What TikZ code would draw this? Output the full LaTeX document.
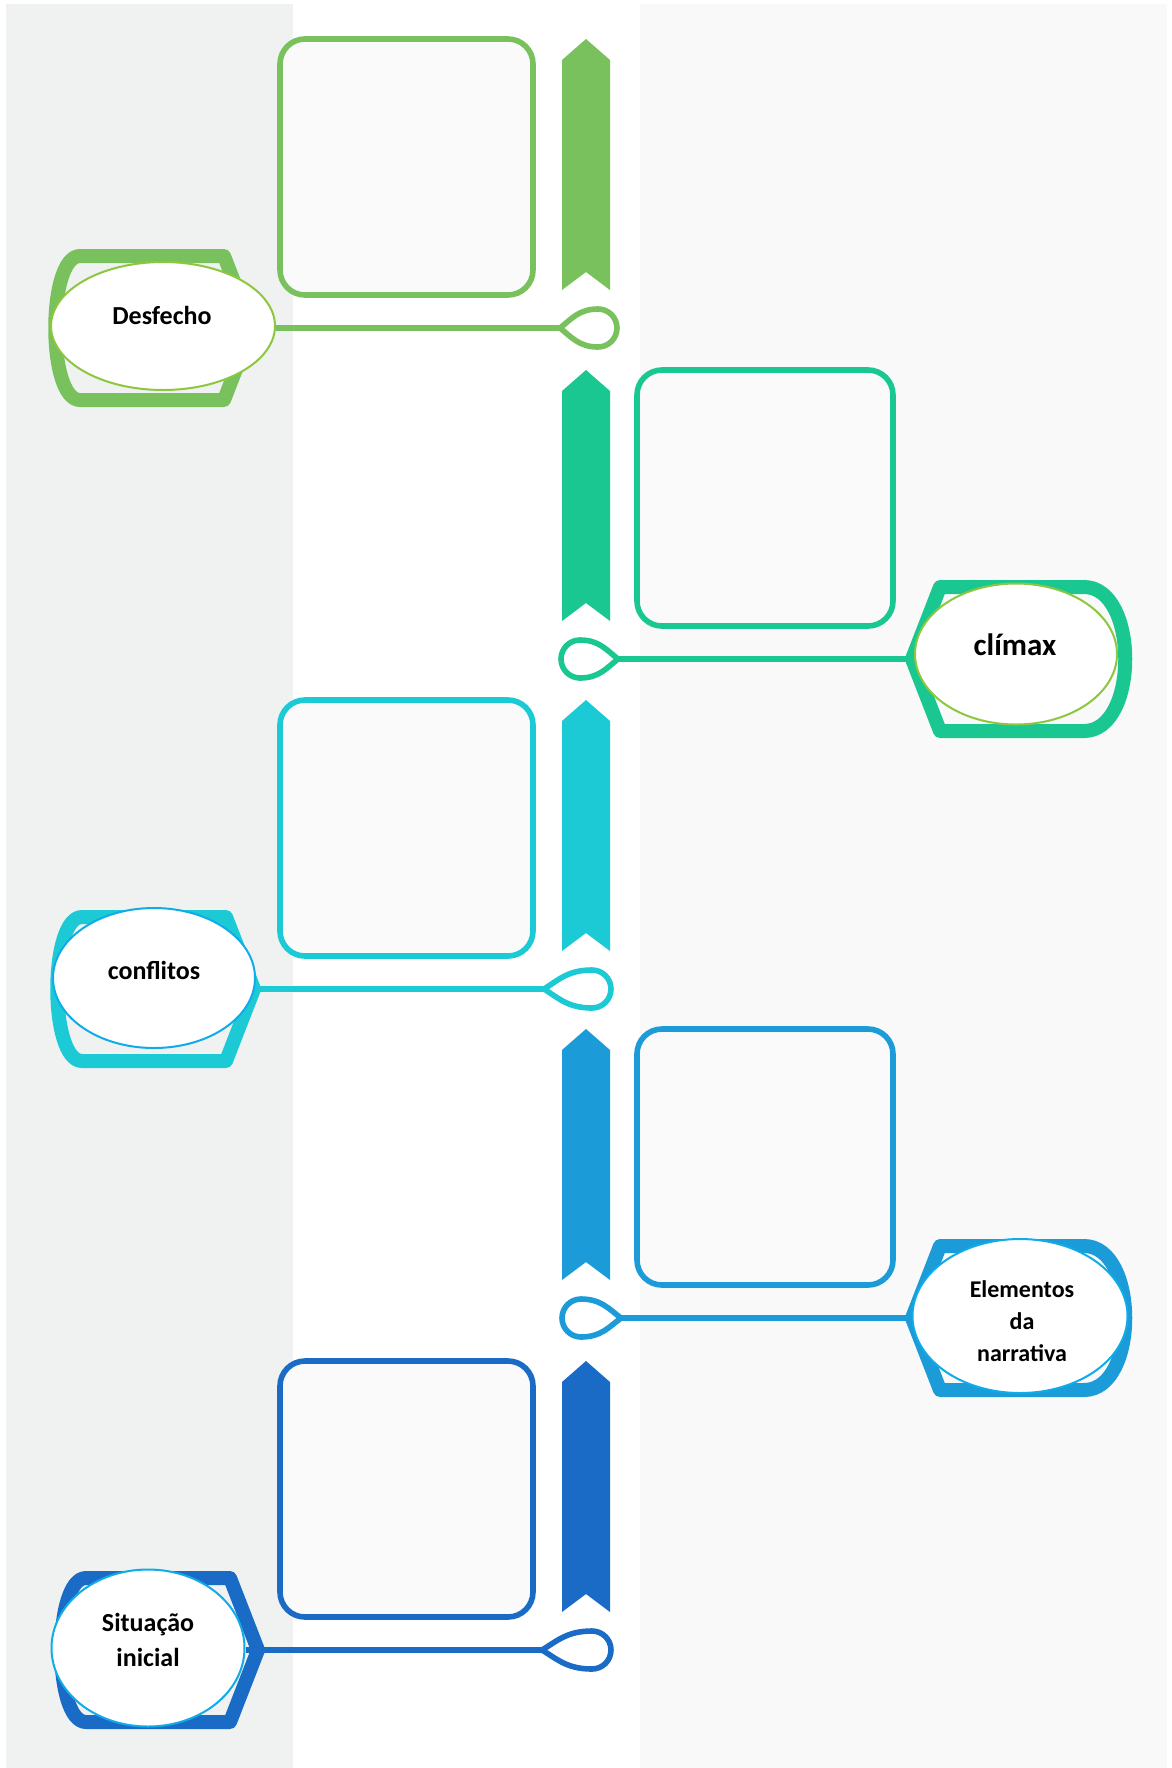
\documentclass[tikz,border=0pt]{standalone}
\usepackage{fontspec}
\setmainfont{Carlito}
\usetikzlibrary{shapes.geometric}

\definecolor{grassgreen}{HTML}{79C15C}
\definecolor{seagreen}{HTML}{1BC791}
\definecolor{aqua}{HTML}{1CCAD6}
\definecolor{skyblue}{HTML}{1B9BD7}
\definecolor{royalblue}{HTML}{1A6BC6}
\definecolor{limeline}{HTML}{8DC63F}
\definecolor{cyanline}{HTML}{10ABE9}
\definecolor{stripgray}{HTML}{EFF2F1}
\definecolor{panelgray}{HTML}{F9F9F9}
\definecolor{boxfill}{HTML}{FAFAFA}

\begin{document}
\begin{tikzpicture} [
          x=0.5pt, y=-0.5pt,
          card/.style = {draw=#1, line width=2.8pt, rounded corners=12.5pt, fill=boxfill},
          bubble/.style = {ellipse, draw=#1, line width=1pt, fill=white, inner sep=0pt},
          caption/.style = {font=\bfseries\fontsize{13}{17.5}\selectfont, align=center},
          link/.style = {draw=#1, line width=3pt},
          ribbon/.pic = {\fill (0,-289) -- (24,-268) -- (24,-38) -- (0,-56) -- (-24,-38) -- (-24,-268) -- cycle;},
          tear/.pic = {\draw[line width=2.8pt] (0,0) .. controls ({0.3*#1},-9) and ({0.5*#1},-19) .. (#1,-19)
                       arc[start angle=-90, end angle=90, radius=19] .. controls ({0.5*#1},19) and ({0.3*#1},9) .. (0,0);},
          badge/.pic = {\draw[line width=7pt, line join=round] (0,0) -- (-28,-72) -- (-172,-72)
                        .. controls (-#1,-72) and (-#1,72) .. (-172,72) -- (-28,72) -- cycle;}
          ]
          % background
          \fill[white] (0,0) rectangle (1172,1768);
          \fill[stripgray] (6,4) rectangle (293,1768);
          \fill[panelgray] (640,4) rectangle (1167,1768);
          \useasboundingbox (0,0) rectangle (1172,1768);

          % Desfecho
          \draw[card=grassgreen] (280,39) rectangle (533,295);
          \pic[grassgreen] at (586,328) {ribbon};
          \coordinate (t1) at (560,328);
          \pic[grassgreen] at (t1) {tear=38};
          \pic[grassgreen] at (252,328) {badge=205};
          \node[bubble=limeline, minimum width=112pt, minimum height=64pt] (desfecho) at (163,326) {};
          \draw[link=grassgreen] (desfecho.east |- t1) -- (t1);
          \node[caption] (desfechotxt) at (162,315) {Desfecho};

          % climax
          \draw[card=seagreen] (637,370) rectangle (893,626);
          \pic[seagreen] at (586,659) {ribbon};
          \coordinate (t2) at (618,659);
          \pic[seagreen, xscale=-1] at (t2) {tear=38};
          \pic[seagreen, xscale=-1] at (912,659) {badge=227};
          \node[bubble=limeline, minimum width=101pt, minimum height=70.5pt] (climax) at (1016,654) {};
          \draw[link=seagreen] (climax.west |- t2) -- (t2);
          \node[caption, font=\bfseries\fontsize{15.5}{18}\selectfont] (climaxtxt) at (1015,645) {clímax};

          % conflitos
          \draw[card=aqua] (280,700) rectangle (533,956);
          \pic[aqua] at (586,989) {ribbon};
          \coordinate (t3) at (544,989);
          \pic[aqua] at (t3) {tear=48};
          \pic[aqua] at (254,989) {badge=205};
          \node[bubble=cyanline, minimum width=101pt, minimum height=70pt] (conflitos) at (154,978) {};
          \draw[link=aqua] (conflitos.east |- t3) -- (t3);
          \node[caption] (conflitostxt) at (154,970) {conflitos};

          % Elementos da narrativa
          \draw[card=skyblue] (637,1029) rectangle (893,1285);
          \pic[skyblue] at (586,1318) {ribbon};
          \coordinate (t4) at (621,1318);
          \pic[skyblue, xscale=-1] at (t4) {tear=40};
          \pic[skyblue, xscale=-1] at (912,1318) {badge=227};
          \node[bubble=cyanline, minimum width=107.5pt, minimum height=77pt] (elementos) at (1020,1316) {};
          \draw[link=skyblue] (elementos.west |- t4) -- (t4);
          \node[caption, font=\bfseries\fontsize{12}{16}\selectfont] (elementostxt) at (1022,1321) {Elementos\\da\\narrativa};

          % Situacao inicial
          \draw[card=royalblue] (280,1361) rectangle (533,1617);
          \pic[royalblue] at (586,1650) {ribbon};
          \coordinate (t5) at (542,1650);
          \pic[royalblue] at (t5) {tear=50};
          \pic[royalblue] at (258,1650) {badge=205};
          \node[bubble=cyanline, minimum width=96.5pt, minimum height=78.5pt] (situacao) at (148,1648) {};
          \draw[link=royalblue] (situacao.east |- t5) -- (t5);
          \node[caption] (situacaotxt) at (148,1640) {Situação\\inicial};
        \end{tikzpicture}
\end{document}
